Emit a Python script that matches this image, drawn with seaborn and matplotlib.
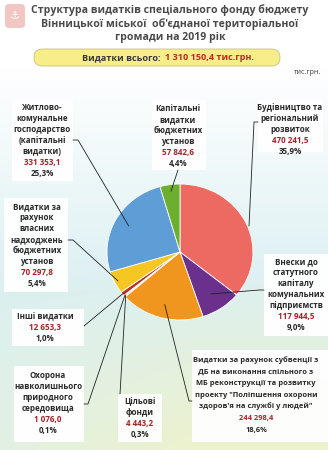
import numpy as np
import matplotlib
matplotlib.use("Agg")
import matplotlib.pyplot as plt
import seaborn as sns
from matplotlib.patches import FancyBboxPatch, Rectangle

sns.set_theme(style="white")
plt.rcParams['font.family'] = ['Open Sans', 'DejaVu Sans']

# ---- data ----
categories = [
    "Будівництво та\nрегіональний\nрозвиток",
    "Внески до\nстатутного\nкапіталу\nкомунальних\nпідприємств",
    "Видатки за рахунок субвенції з\nДБ на виконання спільного з\nМБ реконструкції та розвитку\nпроекту \"Поліпшення охорони\nздоров'я на службі у людей\"",
    "Цільові\nфонди",
    "Охорона\nнавколишнього\nприродного\nсередовища",
    "Інші видатки",
    "Видатки за\nрахунок\nвласних\nнадходжень\nбюджетних\nустанов",
    "Житлово-\nкомунальне\nгосподарство\n(капітальні\nвидатки)",
    "Капітальні\nвидатки\nбюджетних\nустанов",
]
amounts = ["470 241,5", "117 944,5", "244 298,4", "4 443,2", "1 076,0",
           "12 653,3", "70 297,8", "331 353,1", "57 842,6"]
values = [470241.5, 117944.5, 244298.4, 4443.2, 1076.0, 12653.3, 70297.8, 331353.1, 57842.6]
percents = ["35,9%", "9,0%", "18,6%", "0,3%", "0,1%", "1,0%", "5,4%", "25,3%", "4,4%"]
colors = ["#EC6A62", "#6B2F8C", "#F0961F", "#E9D9A8", "#F3E6C0", "#B8322A",
          "#F6C623", "#5E9DD6", "#6CAF2F"]
title = "Структура видатків спеціального фонду бюджету\nВінницької міської  об'єднаної територіальної\nгромади на 2019 рік"
total_label = "Видатки всього:"
total_value = "1 310 150,4 тис.грн."
unit = "тис.грн."

W, H = 328, 450
fig = plt.figure(figsize=(W / 100, H / 100), dpi=100)

# background gradient
bg = fig.add_axes([0, 0, 1, 1])
yy, xx = np.mgrid[0:1:200j, 0:1:150j]
c_top = np.array([1.0, 1.0, 1.0])
c_mid = np.array([0.86, 0.94, 0.95])
c_bot = np.array([0.93, 0.95, 0.80])
t = np.clip((yy - 0.15) / 0.5, 0, 1)[..., None]
img = (1 - t) * c_top + t * c_mid
t2 = np.clip((yy - 0.6) / 0.4, 0, 1)[..., None] * np.clip(0.4 + xx[..., None], 0, 1)
img = (1 - t2) * img + t2 * c_bot
bg.imshow(img, extent=[0, W, H, 0], aspect='auto', zorder=0)
bg.set_xlim(0, W)
bg.set_ylim(H, 0)
bg.axis('off')

# logo
bg.add_patch(FancyBboxPatch((5, 4), 20, 24, boxstyle="round,pad=0,rounding_size=4",
                            fc="#F2C6C3", ec="none", zorder=1))
bg.text(15, 16, "⚓", ha='center', va='center', fontsize=8, color='white', zorder=2,
        family=['DejaVu Sans'])

# title
bg.text(170, 4, title, ha='center', va='top', fontsize=7.6, fontweight='bold',
        color='#4A4A4A', linespacing=1.25, zorder=3)

# total box
bg.add_patch(FancyBboxPatch((34, 49), 246, 17, boxstyle="round,pad=0,rounding_size=8.5",
                            fc="#F7EE8A", ec="#C9C07A", lw=0.6, zorder=3))
bg.text(165, 57.5, total_label + "  ", ha='right', va='center', fontsize=6.6,
        fontweight='bold', color='#3A3A3A', zorder=4)
bg.text(165, 57.5, total_value, ha='left', va='center', fontsize=6.6,
        fontweight='bold', color='#C0282A', zorder=4)
bg.text(321, 73, unit, ha='right', va='center', fontsize=5.2, color='#444444', zorder=4)

# pie
cx, cy, rx, ry = 180, 252, 73, 68
pax = fig.add_axes([(cx - rx) / W, 1 - (cy + ry) / H, 2 * rx / W, 2 * ry / H])
wedges, _ = pax.pie(values, colors=colors, startangle=90, counterclock=False,
                    wedgeprops=dict(edgecolor='white', linewidth=0.6))
pax.set_xlim(-1, 1)
pax.set_ylim(-1, 1)
pax.set_aspect('auto')
pax.axis('off')
pax.set_zorder(2)

def wedge_point(i, frac=0.85):
    w = wedges[i]
    ang = np.deg2rad((w.theta1 + w.theta2) / 2)
    return cx + rx * frac * np.cos(ang), cy - ry * frac * np.sin(ang)

# label boxes: (center x, first baseline y, box x0, x1, y0, y1)
boxes = {
    0: (290, 110, 258, 323, 100, 152),
    1: (296, 264, 264, 328, 254, 336),
    2: (256, 362, 192, 328, 350, 442),
    3: (140, 404, 118, 162, 394, 442),
    4: (48, 378, 14, 84, 366, 442),
    5: (45, 319, 12, 84, 309, 346),
    6: (37, 209, 4, 68, 198, 292),
    7: (42, 110, 12, 73, 99, 181),
    8: (178, 111, 152, 206, 100, 170),
}
leaders = {
    0: ([(258, 122), (254, 122), (249, 226)], None),
    1: ([(264, 290), (259, 290)], 0.75),
    2: ([(192, 401), (189, 401)], 0.8),
    3: ([(120, 394)], 0.98),
    4: ([(84, 404), (88, 404)], 0.98),
    5: ([(84, 326)], 0.98),
    6: ([(68, 240), (73, 240)], 0.95),
    7: ([(73, 140), (78, 140)], 0.8),
    8: ([(178, 170)], 0.9),
}

for i, (tx, ty, x0, x1, y0, y1) in boxes.items():
    bg.add_patch(Rectangle((x0, y0), x1 - x0, y1 - y0, fc='white', ec='none',
                           alpha=0.95, zorder=3))
    lines = categories[i].split("\n")
    cols = ['#2A2A2A'] * len(lines) + ['#A02428', '#2A2A2A']
    lines = lines + [amounts[i], percents[i]]
    lh = 11.6 if i == 2 else 11.0
    fs = 5.4 if i == 2 else 5.8
    for k, (ln, c) in enumerate(zip(lines, cols)):
        bg.text(tx, ty + k * lh, ln, ha='center', va='baseline', fontsize=fs,
                fontweight='bold', color=c, zorder=4)

bg.set_zorder(1)
over = fig.add_axes([0, 0, 1, 1])
over.set_xlim(0, W)
over.set_ylim(H, 0)
over.axis('off')
over.set_zorder(3)
for i, (pts, frac) in leaders.items():
    pts = list(pts)
    if frac is not None:
        pts.append(wedge_point(i, frac))
    xs, ys = zip(*pts)
    over.plot(xs, ys, color='#222222', lw=0.6)

fig.savefig("out.png", dpi=100)
